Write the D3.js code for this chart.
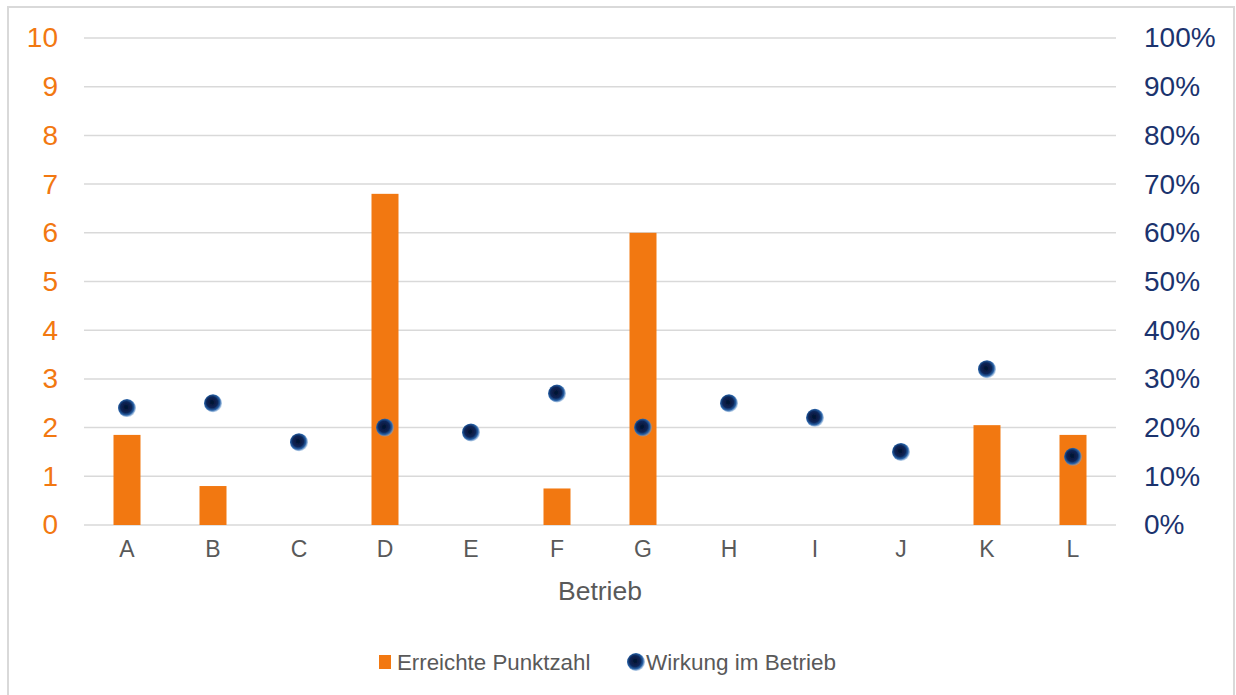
<!DOCTYPE html>
<html>
<head>
<meta charset="utf-8">
<script src="https://cdn.jsdelivr.net/npm/d3@7"></script>
<style>
  html, body { margin: 0; padding: 0; background: #ffffff; }
  svg { display: block; font-family: "Liberation Sans", Arial, sans-serif; }
</style>
</head>
<body>
<svg id="chart" width="1236" height="695"></svg>
<script>
// Betriebe A–L: achieved score (bars, left axis) and effect in the company (dots, right axis)
const categories = ["A", "B", "C", "D", "E", "F", "G", "H", "I", "J", "K", "L"];
const punktzahl = [1.85, 0.8, null, 6.8, null, 0.75, 6.0, null, null, null, 2.05, 1.85];
const wirkung = [0.24, 0.25, 0.17, 0.20, 0.19, 0.27, 0.20, 0.25, 0.22, 0.15, 0.32, 0.14];
const leftTicks = [0, 1, 2, 3, 4, 5, 6, 7, 8, 9, 10];
const rightTicks = [0, 0.1, 0.2, 0.3, 0.4, 0.5, 0.6, 0.7, 0.8, 0.9, 1.0];
const seriesNames = ["Erreichte Punktzahl", "Wirkung im Betrieb"];

const orange = "#f27811";
const navy = "#1b336e";
const grey = "#595959";

const svg = d3.select("#chart");
const plot = { left: 84, right: 1116, top: 38, bottom: 525 };

// outer frame
svg.append("rect")
  .attr("x", 8).attr("y", 7).attr("width", 1226).attr("height", 700)
  .attr("fill", "#ffffff").attr("stroke", "#d9d9d9").attr("stroke-width", 2);

// dot gradient
const defs = svg.append("defs");
const grad = defs.append("radialGradient").attr("id", "dotGrad")
  .attr("cx", "45%").attr("cy", "45%").attr("r", "55%");
grad.append("stop").attr("offset", "0%").attr("stop-color", "#04122e");
grad.append("stop").attr("offset", "55%").attr("stop-color", "#0a2558");
grad.append("stop").attr("offset", "80%").attr("stop-color", "#2a62a6");
grad.append("stop").attr("offset", "100%").attr("stop-color", "#7aa6d6").attr("stop-opacity", 0.5);
defs.append("filter").attr("id", "soft")
  .append("feGaussianBlur").attr("stdDeviation", 0.6);

const x = d3.scaleBand().domain(categories).range([plot.left, plot.right]).padding(0);
const yL = d3.scaleLinear().domain([0, 10]).range([plot.bottom, plot.top]);
const yR = d3.scaleLinear().domain([0, 1]).range([plot.bottom, plot.top]);

// gridlines
svg.append("g").selectAll("line").data(leftTicks).join("line")
  .attr("x1", plot.left).attr("x2", plot.right)
  .attr("y1", d => yL(d)).attr("y2", d => yL(d))
  .attr("stroke", "#d9d9d9").attr("stroke-width", 1.5);

// left axis
const leftAxis = svg.append("g").attr("transform", `translate(${plot.left},0)`)
  .call(d3.axisLeft(yL).tickValues(leftTicks).tickSize(0).tickPadding(26).tickFormat(d3.format("d")));
leftAxis.select(".domain").remove();
leftAxis.selectAll("text").attr("fill", orange).style("font-size", "28px")
  .style("font-family", "'Liberation Sans', Arial, sans-serif");

// right axis
const rightAxis = svg.append("g").attr("transform", `translate(${plot.right},0)`)
  .call(d3.axisRight(yR).tickValues(rightTicks).tickSize(0).tickPadding(28).tickFormat(d3.format(".0%")));
rightAxis.select(".domain").remove();
rightAxis.selectAll("text").attr("fill", navy).style("font-size", "28px")
  .style("font-family", "'Liberation Sans', Arial, sans-serif");

// category axis
const bottomAxis = svg.append("g").attr("transform", `translate(0,${plot.bottom})`)
  .call(d3.axisBottom(x).tickSize(0).tickPadding(16));
bottomAxis.select(".domain").remove();
bottomAxis.selectAll("text").attr("fill", grey).style("font-size", "23px")
  .style("font-family", "'Liberation Sans', Arial, sans-serif");

// axis title
svg.append("text").attr("x", 600).attr("y", 600)
  .attr("text-anchor", "middle").attr("fill", grey).style("font-size", "26.5px")
  .text("Betrieb");

// bars
const barW = 27;
svg.append("g").selectAll("rect")
  .data(categories.map((c, i) => ({ c, v: punktzahl[i] })).filter(d => d.v != null))
  .join("rect")
  .attr("x", d => x(d.c) + x.bandwidth() / 2 - barW / 2)
  .attr("width", barW)
  .attr("y", d => yL(d.v))
  .attr("height", d => yL(0) - yL(d.v))
  .attr("fill", orange);

// dots
svg.append("g").selectAll("circle")
  .data(categories.map((c, i) => ({ c, v: wirkung[i] })))
  .join("circle")
  .attr("cx", d => x(d.c) + x.bandwidth() / 2)
  .attr("cy", d => yR(d.v))
  .attr("r", 9)
  .attr("fill", "url(#dotGrad)")
  .attr("filter", "url(#soft)");

// legend
const legend = svg.append("g").attr("transform", "translate(0,662)");
legend.append("rect").attr("x", 379).attr("y", -7).attr("width", 12).attr("height", 14).attr("fill", orange);
legend.append("text").attr("x", 397).attr("y", 8).attr("fill", grey).style("font-size", "22.3px").text(seriesNames[0]);
legend.append("circle").attr("cx", 636).attr("cy", 0).attr("r", 9)
  .attr("fill", "url(#dotGrad)").attr("filter", "url(#soft)");
legend.append("text").attr("x", 646).attr("y", 8).attr("fill", grey).style("font-size", "22.5px").text(seriesNames[1]);
</script>
</body>
</html>
